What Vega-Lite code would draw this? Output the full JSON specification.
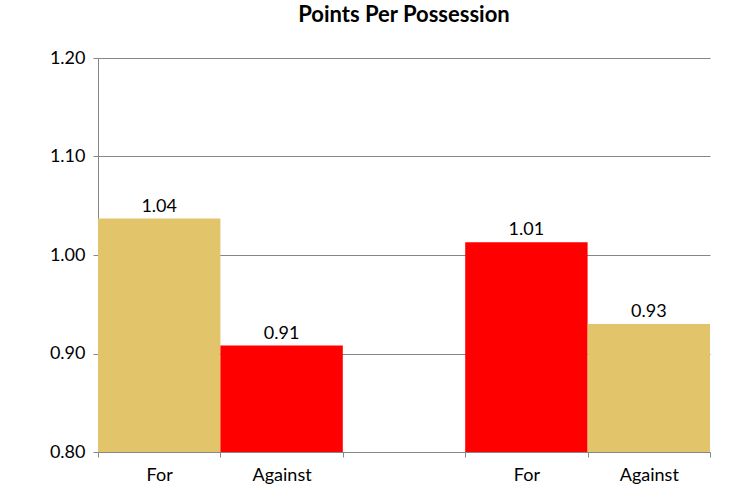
{
  "$schema": "https://vega.github.io/schema/vega-lite/v6.json",
  "autosize": "none",
  "width": 612,
  "height": 394,
  "padding": {"left": 98, "top": 58, "right": 42, "bottom": 43},
  "background": "white",
  "title": {
    "text": "Points Per Possession",
    "font": "Lato",
    "fontSize": 22,
    "fontWeight": "bold",
    "color": "#000000",
    "anchor": "middle",
    "offset": 22
  },
  "config": {
    "view": {"stroke": null},
    "axis": {
      "labelFont": "Lato",
      "labelFontSize": 18,
      "labelColor": "#000000",
      "domainColor": "#868686",
      "tickColor": "#868686",
      "gridColor": "#868686",
      "tickSize": 5
    }
  },
  "data": {
    "values": [
      {"slot": "A For", "team": "Gold", "ppp": 1.037},
      {"slot": "A Against", "team": "Red", "ppp": 0.908},
      {"slot": "B For", "team": "Red", "ppp": 1.013},
      {"slot": "B Against", "team": "Gold", "ppp": 0.93}
    ]
  },
  "encoding": {
    "x": {
      "field": "slot",
      "type": "nominal",
      "sort": null,
      "scale": {
        "domain": ["A For", "A Against", "gap", "B For", "B Against"],
        "paddingInner": 0,
        "paddingOuter": 0
      },
      "axis": {
        "title": null,
        "labelAngle": 0,
        "tickBand": "extent",
        "labelPadding": 9,
        "labelExpr": "isString(datum.value) && datum.value != 'gap' ? substring(datum.value, 2) : ''"
      }
    },
    "y": {
      "field": "ppp",
      "type": "quantitative",
      "scale": {"domain": [0.8, 1.2], "clamp": true},
      "axis": {
        "title": null,
        "values": [0.8, 0.9, 1.0, 1.1, 1.2],
        "format": ".2f",
        "grid": true,
        "labelPadding": 8
      }
    }
  },
  "layer": [
    {
      "mark": {"type": "bar", "clip": true},
      "encoding": {
        "y2": {"datum": 0.8},
        "color": {
          "field": "team",
          "type": "nominal",
          "scale": {"domain": ["Gold", "Red"], "range": ["#E2C56A", "#FF0000"]},
          "legend": null
        }
      }
    },
    {
      "mark": {
        "type": "text",
        "baseline": "bottom",
        "dy": -3,
        "font": "Lato",
        "fontSize": 18,
        "color": "#000000"
      },
      "encoding": {
        "text": {"field": "ppp", "type": "quantitative", "format": ".2f"}
      }
    }
  ]
}
